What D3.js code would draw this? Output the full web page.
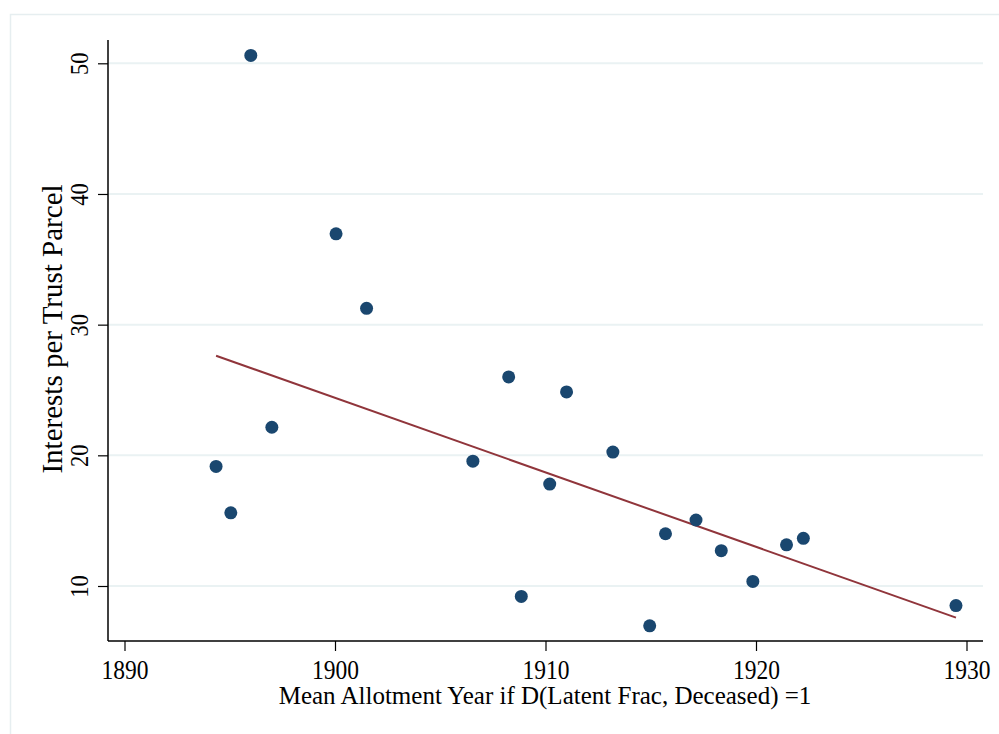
<!DOCTYPE html>
<html>
<head>
<meta charset="utf-8">
<script src="https://cdn.jsdelivr.net/npm/d3@7"></script>
<style>
  body { margin: 0; background: #fff; }
  text { font-family: "Liberation Serif", "Times New Roman", serif; fill: #000; }
</style>
</head>
<body>
<div id="chart"></div>
<script>
// data
var allotYear = [1896.0, 1900.05, 1901.5, 1894.35, 1895.05, 1897.0, 1906.55, 1908.25, 1908.85,
    1911.0, 1910.2, 1913.2, 1915.7, 1914.95, 1917.15, 1918.35, 1919.85, 1921.45, 1922.25, 1929.5];
var interests = [50.6, 36.95, 31.25, 19.15, 15.6, 22.15, 19.55, 26.0, 9.2,
    24.85, 17.8, 20.25, 14.0, 6.95, 15.05, 12.7, 10.35, 13.15, 13.65, 8.5];
// fitted line end points (as drawn in the reference)
var fitYear = [1894.35, 1929.5];
var fitValue = [27.62, 7.58];
var xTicks = [1890, 1900, 1910, 1920, 1930];
var yTicks = [10, 20, 30, 40, 50];

var W = 999, H = 734;
var margin = { top: 40, right: 16, bottom: 93, left: 108 },
    width = W - margin.left - margin.right,
    height = H - margin.top - margin.bottom;

var svg = d3.select("#chart").append("svg")
    .attr("width", W).attr("height", H);

// outer frame (runs off the canvas)
svg.append("rect")
    .attr("x", 10.5).attr("y", 14.5)
    .attr("width", W).attr("height", H)
    .attr("fill", "none")
    .attr("stroke", "#e6eef0")
    .attr("stroke-width", 1.5);

var g = svg.append("g")
    .attr("transform", "translate(" + margin.left + "," + margin.top + ")");

var x = d3.scaleLinear().domain([1890, 1930]).range([124.5 - margin.left, 966.5 - margin.left]);
var y = d3.scaleLinear().domain([10, 50]).range([586 - margin.top, 63.3 - margin.top]);

// gridlines
g.append("g").selectAll("line").data(yTicks).enter().append("line")
    .attr("x1", 0).attr("x2", width)
    .attr("y1", function (d) { return y(d); })
    .attr("y2", function (d) { return y(d); })
    .attr("stroke", "#eaf2f3")
    .attr("stroke-width", 2);

// x axis
var xAxis = g.append("g")
    .attr("transform", "translate(0," + height + ")")
    .call(d3.axisBottom(x).tickValues(xTicks).tickFormat(d3.format("d")).tickSize(10).tickSizeOuter(0));
xAxis.select(".domain").attr("stroke", "#000").attr("stroke-width", 1.5)
    .attr("d", "M0,0H" + width);
xAxis.selectAll(".tick line").attr("stroke", "#000").attr("stroke-width", 1.2);
xAxis.selectAll(".tick text")
    .attr("y", 0).attr("dy", 0)
    .attr("transform", "translate(0,38) scale(1,1.15)")
    .style("font-size", "23.5px")
    .style("font-family", "'Liberation Serif', serif");

// y axis
var yAxis = g.append("g")
    .call(d3.axisLeft(y).tickValues(yTicks).tickSize(10).tickSizeOuter(0));
yAxis.select(".domain").attr("stroke", "#000").attr("stroke-width", 1.5)
    .attr("d", "M0,0V" + height);
yAxis.selectAll(".tick line").attr("stroke", "#000").attr("stroke-width", 1.2);
yAxis.selectAll(".tick text")
    .attr("x", 0).attr("y", 0).attr("dy", 0)
    .attr("text-anchor", "middle")
    .attr("transform", "translate(-20,0) rotate(-90) scale(1,1.15)")
    .style("font-size", "22.5px")
    .style("font-family", "'Liberation Serif', serif");

// fitted line
g.append("path")
    .datum(d3.zip(fitYear, fitValue))
    .attr("fill", "none")
    .attr("stroke", "#90353b")
    .attr("stroke-width", 2)
    .attr("d", d3.line()
        .x(function (d) { return x(d[0]); })
        .y(function (d) { return y(d[1]); }));

// points
g.append("g").selectAll("circle").data(allotYear).enter().append("circle")
    .attr("cx", function (d) { return x(d); })
    .attr("cy", function (d, i) { return y(interests[i]); })
    .attr("r", 6.5)
    .attr("fill", "#1a476f");

// axis titles
svg.append("text")
    .attr("x", 545).attr("y", 704)
    .attr("text-anchor", "middle")
    .style("font-size", "25px")
    .text("Mean Allotment Year if D(Latent Frac, Deceased) =1");

svg.append("text")
    .attr("transform", "translate(62,329) rotate(-90)")
    .attr("text-anchor", "middle")
    .style("font-size", "29px")
    .text("Interests per Trust Parcel");
</script>
</body>
</html>
